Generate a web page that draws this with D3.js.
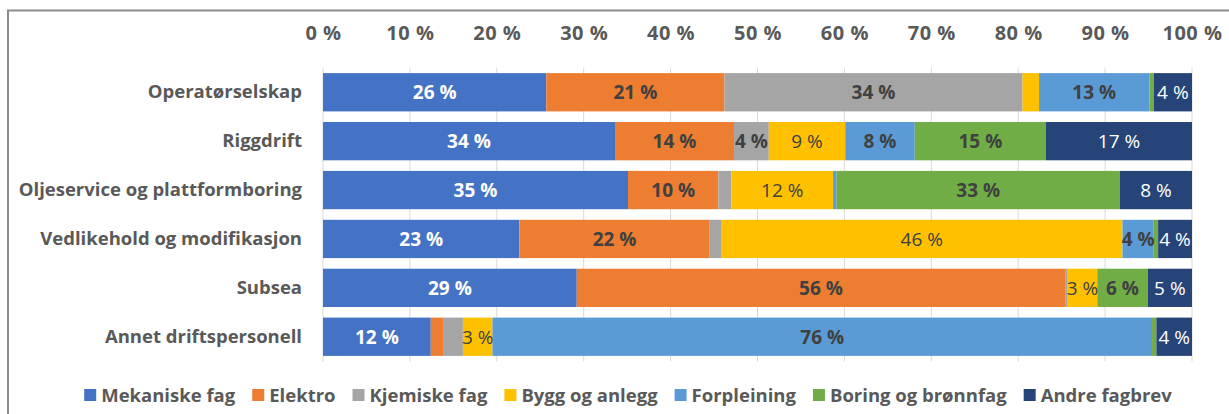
<!DOCTYPE html>
<html>
<head>
<meta charset="utf-8">
<script src="https://cdn.jsdelivr.net/npm/d3@7"></script>
<style>
  body { margin: 0; background: #fff; }
  text { font-family: "Open Sans", sans-serif; }
</style>
</head>
<body>
<div id="chart"></div>
<script>
// categories (top to bottom)
let categories = ["Operatørselskap", "Riggdrift", "Oljeservice og plattformboring",
  "Vedlikehold og modifikasjon", "Subsea", "Annet driftspersonell"]
let seriesNames = ["Mekaniske fag", "Elektro", "Kjemiske fag", "Bygg og anlegg",
  "Forpleining", "Boring og brønnfag", "Andre fagbrev"]
// one array per series, values in % per category
let mekaniske = [25.7, 33.6, 35.1, 22.6, 29.2, 12.4]
let elektro = [20.5, 13.7, 10.4, 21.9, 56.2, 1.5]
let kjemiske = [34.3, 4.0, 1.5, 1.3, 0.3, 2.2]
let bygg = [1.9, 8.8, 11.7, 46.2, 3.4, 3.4]
let forpleining = [12.7, 8.0, 0.4, 3.6, 0.0, 75.9]
let boring = [0.5, 15.1, 32.6, 0.5, 5.8, 0.5]
let andre = [4.4, 16.8, 8.3, 3.9, 5.1, 4.1]
let ticks = [0, 10, 20, 30, 40, 50, 60, 70, 80, 90, 100]

let colors = ["#4472C4", "#ED7D31", "#A5A5A5", "#FFC000", "#5B9BD5", "#70AD47", "#264478"]
let labelColors = ["#ffffff", "#404040", "#404040", "#404040", "#404040", "#404040", "#ffffff"]
let labelWeights = ["bold", "bold", "bold", "normal", "bold", "bold", "normal"]

let allSeries = [mekaniske, elektro, kjemiske, bygg, forpleining, boring, andre]
let rows = categories.map((c, i) => {
    let obj = { cat: c }
    seriesNames.forEach((s, j) => { obj[s] = allSeries[j][i] })
    return obj
})
let stacked = d3.stack().keys(seriesNames)(rows)

let width = 1229
let height = 414
let svg = d3.select("#chart").append("svg")
    .attr("width", width)
    .attr("height", height)

// chart frame (only top and left edges are visible)
svg.append("path")
    .attr("d", "M8,414 V10.5 H1229")
    .attr("fill", "none")
    .attr("stroke", "#8c8c8c")
    .attr("stroke-width", 2)

let x = d3.scaleLinear().domain([0, 100]).range([323, 1192])
let y = d3.scaleBand().domain(categories).range([67.5, 361.5])
    .paddingInner(0.217).paddingOuter(0.115)

// gridlines
svg.append("g").selectAll("line").data(ticks).enter().append("line")
    .attr("x1", d => x(d)).attr("x2", d => x(d))
    .attr("y1", 67.5).attr("y2", 361.5)
    .attr("stroke", "#d9d9d9")
    .attr("stroke-width", 1)

// top axis
let xAxis = svg.append("g")
    .attr("transform", "translate(0,40)")
    .call(d3.axisTop(x).tickValues(ticks).tickSize(0).tickFormat(d => d + " %"))
xAxis.select(".domain").remove()
xAxis.selectAll("text")
    .attr("y", 0)
    .style("font-size", "20px")
    .style("font-weight", "bold")
    .style("letter-spacing", "0.5px")
    .style("font-family", "'Open Sans', sans-serif")
    .attr("fill", "#595959")

// category axis
let yAxis = svg.append("g")
    .attr("transform", "translate(302,0)")
    .call(d3.axisLeft(y).tickSize(0).tickPadding(0))
yAxis.select(".domain").remove()
yAxis.selectAll("text")
    .style("font-size", "18.5px")
    .style("font-weight", "bold")
    .style("font-family", "'Open Sans', sans-serif")
    .attr("fill", "#595959")

// bars
let groups = svg.append("g").selectAll("g").data(stacked).enter().append("g")
    .attr("fill", (d, i) => colors[i])
groups.selectAll("rect").data(d => d).enter().append("rect")
    .attr("x", d => x(d[0]))
    .attr("y", d => y(d.data.cat))
    .attr("width", d => x(d[1]) - x(d[0]))
    .attr("height", y.bandwidth())

// value labels
stacked.forEach((s, i) => {
    svg.append("g").selectAll("text")
        .data(s.filter(d => d[1] - d[0] >= 2.5))
        .enter().append("text")
        .attr("x", d => (x(d[0]) + x(d[1])) / 2)
        .attr("y", d => y(d.data.cat) + y.bandwidth() / 2)
        .attr("dy", "0.36em")
        .attr("text-anchor", "middle")
        .style("font-size", "19px")
        .style("font-weight", labelWeights[i])
        .attr("fill", labelColors[i])
        .text(d => Math.round(d[1] - d[0]) + " %")
})

// legend
let legend = svg.append("g")
let lx = 0
seriesNames.forEach((name, i) => {
    let g = legend.append("g")
    g.append("rect")
        .attr("x", 0).attr("y", -6)
        .attr("width", 12).attr("height", 12)
        .attr("fill", colors[i])
    let t = g.append("text")
        .attr("x", 17).attr("dy", "0.36em")
        .style("font-size", "18.5px")
        .style("font-weight", "bold")
        .attr("fill", "#595959")
        .text(name)
    let w = 17 + t.node().getComputedTextLength()
    g.attr("transform", "translate(" + lx + ",0)")
    lx += w + 17
})
lx -= 17
legend.attr("transform", "translate(" + (628 - lx / 2) + ",395)")
</script>
</body>
</html>
